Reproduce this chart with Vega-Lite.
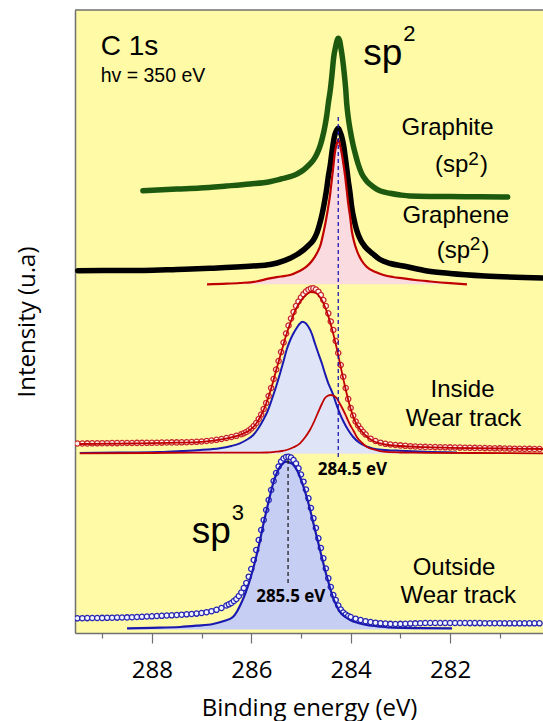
{
"$schema": "https://vega.github.io/schema/vega-lite/v6.json",
"width": 468, "height": 623,
"autosize": "none",
"padding": {"left": 75, "top": 10, "right": 0, "bottom": 88},
"background": "white",
"config": {"view": {"fill": "#fffaa5", "stroke": null}, "font": "Liberation Sans"},
"datasets": {
"graphite": [{"e":288.18,"v":442.3},{"e":287.5,"v":444},{"e":287.03,"v":445},{"e":286.5,"v":447},{"e":286.03,"v":449},{"e":285.63,"v":451.3},{"e":285.4,"v":454},{"e":285.22,"v":456.3},{"e":285.08,"v":459},{"e":284.95,"v":463},{"e":284.85,"v":467.5},{"e":284.75,"v":473},{"e":284.68,"v":479},{"e":284.62,"v":486.3},{"e":284.57,"v":495},{"e":284.52,"v":506.3},{"e":284.48,"v":518},{"e":284.45,"v":529.7},{"e":284.41,"v":543},{"e":284.38,"v":556.3},{"e":284.34,"v":576.3},{"e":284.3,"v":587},{"e":284.27,"v":593},{"e":284.25,"v":594.7},{"e":284.22,"v":592},{"e":284.2,"v":586.3},{"e":284.16,"v":573},{"e":284.13,"v":559.7},{"e":284.1,"v":544},{"e":284.08,"v":529.7},{"e":284.05,"v":516},{"e":284.01,"v":503},{"e":283.96,"v":490},{"e":283.91,"v":479.7},{"e":283.85,"v":469},{"e":283.78,"v":459.7},{"e":283.68,"v":452},{"e":283.55,"v":446.3},{"e":283.4,"v":442},{"e":283.21,"v":439.7},{"e":283.0,"v":438},{"e":282.81,"v":437},{"e":282.4,"v":436.6},{"e":282.0,"v":436.5},{"e":281.4,"v":436.2},{"e":280.84,"v":436}],
"graphene": [{"e":289.49,"v":362.3},{"e":289.0,"v":362.4},{"e":288.18,"v":362.5},{"e":287.5,"v":363.5},{"e":286.83,"v":364.7},{"e":285.97,"v":367},{"e":285.62,"v":368.5},{"e":285.48,"v":370},{"e":285.22,"v":374.7},{"e":285.08,"v":378.5},{"e":284.95,"v":383},{"e":284.85,"v":387.5},{"e":284.75,"v":393},{"e":284.68,"v":400},{"e":284.62,"v":409.7},{"e":284.57,"v":420},{"e":284.52,"v":433},{"e":284.48,"v":445},{"e":284.45,"v":456.3},{"e":284.41,"v":468},{"e":284.38,"v":479.7},{"e":284.35,"v":490},{"e":284.32,"v":498},{"e":284.28,"v":503},{"e":284.25,"v":504.7},{"e":284.22,"v":502},{"e":284.18,"v":496.3},{"e":284.14,"v":487},{"e":284.11,"v":476.3},{"e":284.08,"v":465},{"e":284.05,"v":453},{"e":284.01,"v":439},{"e":283.98,"v":426.3},{"e":283.93,"v":413},{"e":283.88,"v":403},{"e":283.8,"v":393},{"e":283.71,"v":386.3},{"e":283.55,"v":379},{"e":283.41,"v":373.5},{"e":283.2,"v":369.5},{"e":282.94,"v":367},{"e":282.46,"v":362},{"e":282.0,"v":359.5},{"e":281.3,"v":357},{"e":280.13,"v":355}],
"grapheneFit": [{"e":286.89,"v":348.7},{"e":286.5,"v":349.3},{"e":286.23,"v":350},{"e":285.9,"v":351.5},{"e":285.63,"v":354.7},{"e":285.4,"v":356.5},{"e":285.22,"v":358},{"e":285.05,"v":361.5},{"e":284.89,"v":366.3},{"e":284.78,"v":372},{"e":284.68,"v":379.7},{"e":284.6,"v":389},{"e":284.55,"v":399.7},{"e":284.5,"v":412},{"e":284.45,"v":426.3},{"e":284.41,"v":440},{"e":284.38,"v":453},{"e":284.35,"v":466},{"e":284.32,"v":479.7},{"e":284.28,"v":489},{"e":284.25,"v":493.7},{"e":284.22,"v":489},{"e":284.18,"v":479.7},{"e":284.14,"v":467},{"e":284.11,"v":456.3},{"e":284.08,"v":443},{"e":284.05,"v":429.7},{"e":284.01,"v":416},{"e":283.98,"v":403},{"e":283.93,"v":391},{"e":283.88,"v":383},{"e":283.78,"v":372.5},{"e":283.68,"v":366.3},{"e":283.5,"v":361},{"e":283.34,"v":358},{"e":283.15,"v":356},{"e":282.94,"v":354.7},{"e":282.7,"v":353},{"e":282.4,"v":351.5},{"e":282.0,"v":349.8},{"e":281.66,"v":348.7}],
"inBlue": [{"e":289.45,"v":180},{"e":288.5,"v":180.5},{"e":287.84,"v":181},{"e":287.4,"v":182},{"e":287.03,"v":183},{"e":286.8,"v":183.8},{"e":286.63,"v":184.7},{"e":286.4,"v":187},{"e":286.23,"v":189.7},{"e":286.1,"v":193},{"e":285.96,"v":198},{"e":285.86,"v":204.5},{"e":285.76,"v":213},{"e":285.67,"v":222},{"e":285.59,"v":233},{"e":285.5,"v":246.5},{"e":285.42,"v":259.7},{"e":285.35,"v":272},{"e":285.29,"v":283},{"e":285.22,"v":292.5},{"e":285.15,"v":299.7},{"e":285.08,"v":305.5},{"e":285.03,"v":309},{"e":284.97,"v":311.3},{"e":284.91,"v":310},{"e":284.85,"v":306.3},{"e":284.78,"v":299},{"e":284.72,"v":289.7},{"e":284.65,"v":279.5},{"e":284.58,"v":269.7},{"e":284.52,"v":260},{"e":284.45,"v":249.7},{"e":284.4,"v":244},{"e":284.35,"v":238},{"e":284.29,"v":229},{"e":284.22,"v":219.7},{"e":284.14,"v":211},{"e":284.05,"v":203},{"e":283.95,"v":196},{"e":283.81,"v":189.7},{"e":283.65,"v":186},{"e":283.48,"v":183.7},{"e":283.2,"v":182.6},{"e":283.01,"v":182.3},{"e":282.5,"v":181.2},{"e":281.86,"v":180.5}],
"inRed": [{"e":289.45,"v":179.7},{"e":288.0,"v":180},{"e":287.03,"v":180.3},{"e":286.0,"v":180.3},{"e":285.69,"v":180.5},{"e":285.5,"v":181.3},{"e":285.38,"v":182},{"e":285.29,"v":183},{"e":285.15,"v":185.7},{"e":285.02,"v":189.7},{"e":284.92,"v":195.5},{"e":284.82,"v":203},{"e":284.73,"v":212},{"e":284.65,"v":221.3},{"e":284.58,"v":229},{"e":284.52,"v":234.7},{"e":284.46,"v":237.2},{"e":284.4,"v":238},{"e":284.34,"v":237.2},{"e":284.28,"v":234.7},{"e":284.22,"v":229.5},{"e":284.15,"v":223},{"e":284.08,"v":215.5},{"e":284.01,"v":208},{"e":283.94,"v":202},{"e":283.88,"v":196.3},{"e":283.78,"v":190.5},{"e":283.68,"v":186.3},{"e":283.5,"v":183},{"e":283.34,"v":181.3},{"e":283.0,"v":180.5},{"e":282.74,"v":180.3},{"e":281.5,"v":180},{"e":280.13,"v":179.7}],
"inEnv": [{"e":289.45,"v":189},{"e":288.5,"v":189.5},{"e":287.5,"v":190.3},{"e":287.0,"v":191.2},{"e":286.6,"v":193.7},{"e":286.4,"v":195.7},{"e":286.2,"v":198.5},{"e":286.0,"v":204},{"e":285.9,"v":209.5},{"e":285.8,"v":218},{"e":285.7,"v":229.5},{"e":285.6,"v":244.5},{"e":285.5,"v":262.5},{"e":285.4,"v":280},{"e":285.3,"v":297.5},{"e":285.2,"v":312},{"e":285.1,"v":324},{"e":285.0,"v":332.5},{"e":284.9,"v":338},{"e":284.8,"v":341},{"e":284.7,"v":340},{"e":284.6,"v":334.5},{"e":284.5,"v":324},{"e":284.4,"v":308.5},{"e":284.3,"v":289},{"e":284.2,"v":266},{"e":284.1,"v":243.5},{"e":284.0,"v":224},{"e":283.9,"v":210.5},{"e":283.8,"v":203},{"e":283.7,"v":197.5},{"e":283.6,"v":193.5},{"e":283.5,"v":191},{"e":283.3,"v":188.5},{"e":283.0,"v":187},{"e":282.5,"v":185.8},{"e":282.0,"v":185.2},{"e":281.0,"v":184.5},{"e":280.1,"v":184}],
"inPts": [{"e":289.5,"v":189.5},{"e":289.4,"v":189.5},{"e":289.3,"v":189.6},{"e":289.2,"v":189.7},{"e":289.1,"v":189.7},{"e":289.0,"v":189.8},{"e":288.9,"v":189.8},{"e":288.8,"v":189.9},{"e":288.7,"v":189.9},{"e":288.6,"v":190},{"e":288.5,"v":190},{"e":288.4,"v":190},{"e":288.3,"v":190.1},{"e":288.2,"v":190.1},{"e":288.1,"v":190.2},{"e":288.0,"v":190.2},{"e":287.9,"v":190.3},{"e":287.8,"v":190.4},{"e":287.7,"v":190.5},{"e":287.6,"v":190.6},{"e":287.5,"v":190.6},{"e":287.4,"v":190.7},{"e":287.3,"v":190.8},{"e":287.2,"v":191},{"e":287.1,"v":191.2},{"e":287.0,"v":191.5},{"e":286.9,"v":192},{"e":286.8,"v":192.5},{"e":286.7,"v":193.2},{"e":286.6,"v":194},{"e":286.5,"v":195},{"e":286.4,"v":196},{"e":286.3,"v":197.2},{"e":286.2,"v":198.8},{"e":286.15,"v":199.8},{"e":286.1,"v":201},{"e":286.05,"v":202.5},{"e":286.0,"v":204.5},{"e":285.95,"v":207},{"e":285.9,"v":210},{"e":285.85,"v":214},{"e":285.8,"v":218.5},{"e":285.75,"v":224},{"e":285.7,"v":230},{"e":285.65,"v":237},{"e":285.6,"v":245},{"e":285.55,"v":254},{"e":285.5,"v":263.5},{"e":285.45,"v":272},{"e":285.4,"v":281},{"e":285.35,"v":290.5},{"e":285.3,"v":299.5},{"e":285.25,"v":307.5},{"e":285.2,"v":314.5},{"e":285.15,"v":321},{"e":285.1,"v":327},{"e":285.05,"v":331.5},{"e":285.0,"v":335.5},{"e":284.95,"v":338.8},{"e":284.9,"v":341.5},{"e":284.85,"v":343.3},{"e":284.8,"v":344.5},{"e":284.75,"v":344.7},{"e":284.7,"v":343.5},{"e":284.65,"v":341.3},{"e":284.6,"v":338},{"e":284.55,"v":333},{"e":284.5,"v":327},{"e":284.45,"v":319.7},{"e":284.4,"v":311.5},{"e":284.35,"v":303},{"e":284.3,"v":292},{"e":284.25,"v":280},{"e":284.2,"v":268},{"e":284.15,"v":256.3},{"e":284.1,"v":245},{"e":284.05,"v":234},{"e":284.0,"v":225},{"e":283.95,"v":217.5},{"e":283.9,"v":211.5},{"e":283.85,"v":207.5},{"e":283.8,"v":204},{"e":283.75,"v":201},{"e":283.7,"v":198.5},{"e":283.6,"v":194.3},{"e":283.5,"v":192},{"e":283.4,"v":190.3},{"e":283.3,"v":189.2},{"e":283.2,"v":188.5},{"e":283.1,"v":188},{"e":283.0,"v":187.6},{"e":282.9,"v":187.2},{"e":282.8,"v":186.8},{"e":282.7,"v":186.5},{"e":282.6,"v":186.3},{"e":282.5,"v":186.1},{"e":282.4,"v":186},{"e":282.3,"v":185.9},{"e":282.2,"v":185.8},{"e":282.1,"v":185.7},{"e":282.0,"v":185.6},{"e":281.9,"v":185.5},{"e":281.8,"v":185.4},{"e":281.7,"v":185.3},{"e":281.6,"v":185.2},{"e":281.5,"v":185.1},{"e":281.4,"v":185},{"e":281.3,"v":184.9},{"e":281.2,"v":184.8},{"e":281.1,"v":184.7},{"e":281.0,"v":184.6},{"e":280.9,"v":184.5},{"e":280.8,"v":184.4},{"e":280.7,"v":184.3},{"e":280.6,"v":184.2},{"e":280.5,"v":184.2},{"e":280.4,"v":184.1},{"e":280.3,"v":184},{"e":280.2,"v":184}],
"outFit": [{"e":288.5,"v":4.7},{"e":288.0,"v":5.2},{"e":287.43,"v":6},{"e":287.1,"v":7.3},{"e":286.77,"v":9},{"e":286.55,"v":12},{"e":286.37,"v":16},{"e":286.29,"v":21.3},{"e":286.22,"v":28},{"e":286.16,"v":34.7},{"e":286.11,"v":41},{"e":286.06,"v":48},{"e":286.01,"v":56},{"e":285.96,"v":64.7},{"e":285.91,"v":74.5},{"e":285.86,"v":84.7},{"e":285.81,"v":96},{"e":285.76,"v":108},{"e":285.71,"v":119},{"e":285.66,"v":129.7},{"e":285.61,"v":140},{"e":285.56,"v":149.7},{"e":285.51,"v":157},{"e":285.46,"v":163},{"e":285.41,"v":167},{"e":285.36,"v":169.7},{"e":285.32,"v":171},{"e":285.28,"v":171.3},{"e":285.22,"v":170.2},{"e":285.15,"v":168},{"e":285.1,"v":164.5},{"e":285.05,"v":159.7},{"e":285.0,"v":153.5},{"e":284.95,"v":146.3},{"e":284.9,"v":138.5},{"e":284.85,"v":129.7},{"e":284.8,"v":120},{"e":284.75,"v":109.7},{"e":284.7,"v":99.7},{"e":284.65,"v":89.7},{"e":284.6,"v":79.5},{"e":284.55,"v":69.7},{"e":284.5,"v":60},{"e":284.45,"v":51.3},{"e":284.4,"v":42.5},{"e":284.35,"v":34.7},{"e":284.28,"v":27},{"e":284.22,"v":21.3},{"e":284.12,"v":16.5},{"e":284.01,"v":13},{"e":283.85,"v":10},{"e":283.68,"v":8},{"e":283.4,"v":6.3},{"e":283.14,"v":5.3},{"e":282.6,"v":4.9},{"e":281.96,"v":4.7}],
"outPts": [{"e":289.5,"v":14.7},{"e":289.4,"v":14.8},{"e":289.3,"v":14.9},{"e":289.2,"v":15},{"e":289.1,"v":15},{"e":289.0,"v":15.1},{"e":288.9,"v":15.2},{"e":288.8,"v":15.3},{"e":288.7,"v":15.4},{"e":288.6,"v":15.5},{"e":288.5,"v":15.6},{"e":288.4,"v":15.8},{"e":288.3,"v":16},{"e":288.2,"v":16.2},{"e":288.1,"v":16.5},{"e":288.0,"v":16.7},{"e":287.9,"v":17},{"e":287.8,"v":17.2},{"e":287.7,"v":17.5},{"e":287.6,"v":17.7},{"e":287.5,"v":18},{"e":287.4,"v":18.3},{"e":287.3,"v":18.7},{"e":287.2,"v":19},{"e":287.1,"v":19.4},{"e":287.0,"v":20},{"e":286.9,"v":20.8},{"e":286.8,"v":21.8},{"e":286.7,"v":23.2},{"e":286.6,"v":25},{"e":286.5,"v":27.5},{"e":286.45,"v":28.7},{"e":286.4,"v":30},{"e":286.35,"v":32},{"e":286.3,"v":34},{"e":286.25,"v":37},{"e":286.2,"v":40.5},{"e":286.15,"v":45},{"e":286.1,"v":50},{"e":286.05,"v":56.3},{"e":286.0,"v":64},{"e":285.95,"v":73},{"e":285.9,"v":83},{"e":285.85,"v":93},{"e":285.8,"v":103},{"e":285.75,"v":113},{"e":285.7,"v":123},{"e":285.65,"v":133},{"e":285.6,"v":143},{"e":285.55,"v":152},{"e":285.5,"v":160},{"e":285.45,"v":166.5},{"e":285.4,"v":171.5},{"e":285.35,"v":174.5},{"e":285.3,"v":176},{"e":285.25,"v":176.3},{"e":285.2,"v":175.5},{"e":285.15,"v":173},{"e":285.1,"v":169.5},{"e":285.05,"v":164.7},{"e":285.0,"v":158.5},{"e":284.95,"v":151.3},{"e":284.9,"v":143.5},{"e":284.85,"v":134.7},{"e":284.8,"v":125},{"e":284.75,"v":114.7},{"e":284.7,"v":105},{"e":284.65,"v":94.7},{"e":284.6,"v":85},{"e":284.55,"v":74.7},{"e":284.5,"v":64.5},{"e":284.45,"v":54.7},{"e":284.4,"v":46},{"e":284.35,"v":38},{"e":284.3,"v":33},{"e":284.25,"v":27.5},{"e":284.2,"v":23.5},{"e":284.15,"v":20.5},{"e":284.1,"v":18.5},{"e":284.05,"v":17},{"e":284.0,"v":16},{"e":283.9,"v":14.3},{"e":283.8,"v":13},{"e":283.7,"v":11.8},{"e":283.6,"v":11},{"e":283.5,"v":10.3},{"e":283.4,"v":9.8},{"e":283.3,"v":9.4},{"e":283.2,"v":9.1},{"e":283.1,"v":9},{"e":283.0,"v":9.1},{"e":282.9,"v":9.2},{"e":282.8,"v":9.4},{"e":282.7,"v":9.6},{"e":282.6,"v":9.8},{"e":282.5,"v":10},{"e":282.4,"v":10},{"e":282.3,"v":10},{"e":282.2,"v":10},{"e":282.1,"v":10},{"e":282.0,"v":10},{"e":281.9,"v":10},{"e":281.8,"v":10},{"e":281.7,"v":10},{"e":281.6,"v":9.9},{"e":281.5,"v":9.9},{"e":281.4,"v":9.9},{"e":281.3,"v":9.8},{"e":281.2,"v":9.8},{"e":281.1,"v":9.8},{"e":281.0,"v":9.8},{"e":280.9,"v":9.7},{"e":280.8,"v":9.7},{"e":280.7,"v":9.7},{"e":280.6,"v":9.7},{"e":280.5,"v":9.7},{"e":280.4,"v":9.7},{"e":280.3,"v":9.7},{"e":280.2,"v":9.7}]
},
"encoding": {
"x": {"field": "e", "type": "quantitative",
 "scale": {"domain": [280.13, 289.547], "reverse": true, "nice": false, "zero": false},
 "axis": {"title": "Binding energy (eV)", "values": [281,282,283,284,285,286,287,288,289], "labelExpr": "datum.value % 2 === 0 ? datum.label : ''", "grid": false,
  "tickSize": {"condition": {"test": "datum.value % 2 === 0", "value": 10}, "value": 5},
  "domainColor": "#6f6f6f", "domainWidth": 1.5, "tickColor": "#6f6f6f", "tickWidth": 1.2,
  "labelFont": "Open Sans", "labelFontSize": 24, "labelColor": "#000000", "labelPadding": 15,
  "titleFont": "Open Sans", "titleFontSize": 24, "titleFontWeight": "normal", "titleColor": "#000000", "titlePadding": 14}},
"y": {"field": "v", "type": "quantitative",
 "scale": {"domain": [0, 623], "nice": false, "zero": false},
 "axis": {"title": "Intensity (u.a)", "labels": false, "ticks": false, "grid": false,
  "domainColor": "#6f6f6f", "domainWidth": 1.5,
  "titleFont": "Open Sans", "titleFontSize": 24, "titleFontWeight": "normal", "titleColor": "#000000", "titlePadding": 36}}
},
"layer": [
{"data": {"values": [{"e":289.547,"e2":280.13,"v":623}]}, "mark": {"type": "rule", "color": "#6f6f6f", "strokeWidth": 1.5},
 "encoding": {"x2": {"field": "e2"}}},
{"data": {"name": "grapheneFit"}, "mark": {"type": "area", "color": "#f9dbe0", "interpolate": "monotone", "clip": true}, "encoding": {"y2": {"datum": 348.7}}},
{"data": {"name": "inRed"}, "mark": {"type": "area", "color": "#f9dbe0", "interpolate": "monotone", "clip": true}, "encoding": {"y2": {"datum": 179.5}}},
{"data": {"name": "inBlue"}, "mark": {"type": "area", "color": "#dfe5f6", "interpolate": "monotone", "clip": true}, "encoding": {"y2": {"datum": 179.5}}},
{"data": {"name": "outFit"}, "mark": {"type": "area", "color": "#c7cef3", "interpolate": "monotone", "clip": true}, "encoding": {"y2": {"datum": 3.5}}},
{"data": {"name": "graphite"}, "mark": {"type": "line", "color": "#1d5a10", "strokeWidth": 5.5, "strokeCap": "round", "interpolate": "monotone", "clip": true}},
{"data": {"name": "graphene"}, "mark": {"type": "line", "color": "#000000", "strokeWidth": 5.5, "strokeCap": "round", "interpolate": "monotone", "clip": true}},
{"data": {"name": "grapheneFit"}, "mark": {"type": "line", "color": "#c00000", "strokeWidth": 2.2, "interpolate": "monotone", "clip": true}},
{"data": {"name": "inBlue"}, "mark": {"type": "line", "color": "#1a1ab0", "strokeWidth": 2, "interpolate": "monotone", "clip": true}},
{"data": {"name": "inRed"}, "mark": {"type": "line", "color": "#c00000", "strokeWidth": 1.8, "interpolate": "monotone", "clip": true}},
{"data": {"name": "inPts"}, "mark": {"type": "point", "shape": "circle", "filled": true, "size": 28, "fill": "#fff8f0", "stroke": "#c8282d", "strokeWidth": 1.3, "opacity": 1, "clip": true}},
{"data": {"name": "inEnv"}, "mark": {"type": "line", "color": "#c00000", "strokeWidth": 1.8, "interpolate": "monotone", "clip": true}},
{"data": {"name": "outPts"}, "mark": {"type": "point", "shape": "circle", "filled": true, "size": 28, "fill": "#f4f4ff", "stroke": "#2626b4", "strokeWidth": 1.3, "opacity": 1, "clip": true}},
{"data": {"name": "outFit"}, "mark": {"type": "line", "color": "#1a1ab0", "strokeWidth": 2.2, "interpolate": "monotone", "clip": true}},
{"data": {"values": [{"e":284.25,"v":516,"v2":173}]}, "mark": {"type": "rule", "color": "#1a1ab0", "strokeDash": [4, 3], "strokeWidth": 1.3},
 "encoding": {"y2": {"field": "v2"}}},
{"data": {"values": [{"e":285.26,"v":173,"v2":50}]}, "mark": {"type": "rule", "color": "#222222", "strokeDash": [4, 3], "strokeWidth": 1.3},
 "encoding": {"y2": {"field": "v2"}}},
{"data": {"values": [{"e":282.05,"v":498.5,"t":"Graphite"},{"e":281.885,"v":409.7,"t":"Graphene"},{"e":281.75,"v":236.3,"t":"Inside"},{"e":281.73,"v":207,"t":"Wear track"},{"e":281.92,"v":58,"t":"Outside"},{"e":281.835,"v":29.7,"t":"Wear track"}]},
 "mark": {"type": "text", "font": "Liberation Sans", "fontSize": 24, "align": "center", "baseline": "alphabetic", "color": "#000000"},
 "encoding": {"text": {"field": "t"}}},
{"data": {"values": [{"e":282.304,"v":461,"t":"(sp"},{"e":281.4,"v":461,"t":")"},{"e":282.27,"v":375,"t":"(sp"},{"e":281.366,"v":375,"t":")"}]},
 "mark": {"type": "text", "font": "Liberation Sans", "fontSize": 24, "align": "left", "baseline": "alphabetic", "color": "#000000"},
 "encoding": {"text": {"field": "t"}}},
{"data": {"values": [{"e":281.636,"v":474,"t":"2"},{"e":281.602,"v":389,"t":"2"}]},
 "mark": {"type": "text", "font": "Liberation Sans", "fontSize": 19, "align": "left", "baseline": "middle", "color": "#000000"},
 "encoding": {"text": {"field": "t"}}},
{"data": {"values": [{"e":289.03,"v":578,"t":"C 1s"}]},
 "mark": {"type": "text", "font": "Liberation Sans", "fontSize": 28, "align": "left", "baseline": "alphabetic", "color": "#000000"},
 "encoding": {"text": {"field": "t"}}},
{"data": {"values": [{"e":289.03,"v":551.5,"t":"hv = 350 eV"}]},
 "mark": {"type": "text", "font": "Liberation Sans", "fontSize": 19.5, "align": "left", "baseline": "alphabetic", "color": "#000000"},
 "encoding": {"text": {"field": "t"}}},
{"data": {"values": [{"e":283.746,"v":568,"t":"sp"},{"e":287.199,"v":89.7,"t":"sp"}]},
 "mark": {"type": "text", "font": "Liberation Sans", "fontSize": 37, "align": "left", "baseline": "alphabetic", "color": "#000000"},
 "encoding": {"text": {"field": "t"}}},
{"data": {"values": [{"e":282.94,"v":599,"t":"2"},{"e":286.394,"v":120,"t":"3"}]},
 "mark": {"type": "text", "font": "Liberation Sans", "fontSize": 22, "align": "left", "baseline": "middle", "color": "#000000"},
 "encoding": {"text": {"field": "t"}}},
{"data": {"values": [{"e":285.205,"v":31.3,"t":"285.5 eV"},{"e":283.964,"v":158,"t":"284.5 eV"}]},
 "mark": {"type": "text", "font": "Open Sans", "fontSize": 17, "fontWeight": "bold", "align": "center", "baseline": "alphabetic", "color": "#000000"},
 "encoding": {"text": {"field": "t"}}}
]
}
